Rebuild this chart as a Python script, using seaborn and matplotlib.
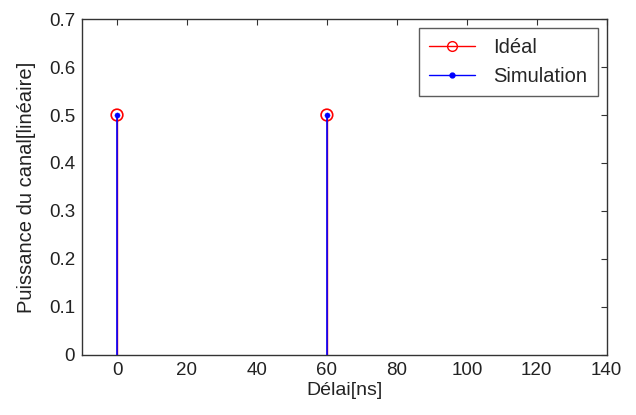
import matplotlib
matplotlib.use("Agg")
import matplotlib.pyplot as plt
import seaborn as sns
import pandas as pd
from matplotlib.lines import Line2D

# Channel power profile: two taps
delays_ideal = [0, 60]
power_ideal = [0.5, 0.5]
delays_sim = [0, 60]
power_sim = [0.5, 0.5]

sns.set_style("white", {"xtick.direction": "in", "ytick.direction": "in"})
plt.rcParams["font.family"] = ["Liberation Sans", "DejaVu Sans"]

FS = 13.5

fig = plt.figure(figsize=(6.36, 4.15), dpi=100)
ax = fig.add_axes([0.129, 0.145, 0.825, 0.809])

df_ideal = pd.DataFrame({"delay": delays_ideal, "power": power_ideal})
df_sim = pd.DataFrame({"delay": delays_sim, "power": power_sim})

# Ideal taps: red stems with open circles
ax.vlines(df_ideal["delay"], 0, df_ideal["power"], color="red", lw=1)
sns.scatterplot(data=df_ideal, x="delay", y="power", ax=ax, marker="o",
                s=70, facecolor="none", edgecolor="red", linewidth=1.2,
                legend=False, zorder=3)
# Simulated taps: blue stems with filled dots
ax.vlines(df_sim["delay"], 0, df_sim["power"], color="blue", lw=1.2, zorder=4)
sns.scatterplot(data=df_sim, x="delay", y="power", ax=ax, marker="o",
                s=14, color="blue", edgecolor="blue", legend=False, zorder=5)

ax.set_xlim(-10, 140)
ax.set_ylim(0, 0.7)
ax.set_xticks(range(0, 141, 20))
ax.set_yticks([0, 0.1, 0.2, 0.3, 0.4, 0.5, 0.6, 0.7])
ax.set_yticklabels(["0", "0.1", "0.2", "0.3", "0.4", "0.5", "0.6", "0.7"])
ax.tick_params(axis="both", labelsize=FS, length=4, width=0.8, color="#333333",
               labelcolor="#222222", top=True, right=True, pad=5)
for sp in ax.spines.values():
    sp.set_color("#333333")
    sp.set_linewidth(1.0)

ax.set_xlabel("Délai[ns]", fontsize=14, color="#222222", labelpad=2)
ax.set_ylabel("Puissance du canal[linéaire]", fontsize=14.5, color="#222222",
              labelpad=9)

handles = [
    Line2D([], [], color="red", lw=1, marker="o", markersize=7,
           markerfacecolor="none", markeredgecolor="red", markevery=[1]),
    Line2D([], [], color="blue", lw=1, marker="o", markersize=3.5,
           markerfacecolor="blue", markevery=[1]),
]
leg = ax.legend(handles, ["Idéal", "Simulation"], loc="upper right",
                fontsize=14.5, frameon=True, fancybox=False, edgecolor="#333333",
                borderaxespad=0.45, handlelength=2.3, handletextpad=0.9,
                labelspacing=0.5, borderpad=0.5)
leg.get_frame().set_linewidth(1.0)

fig.savefig("out.png", dpi=100, facecolor="white")
